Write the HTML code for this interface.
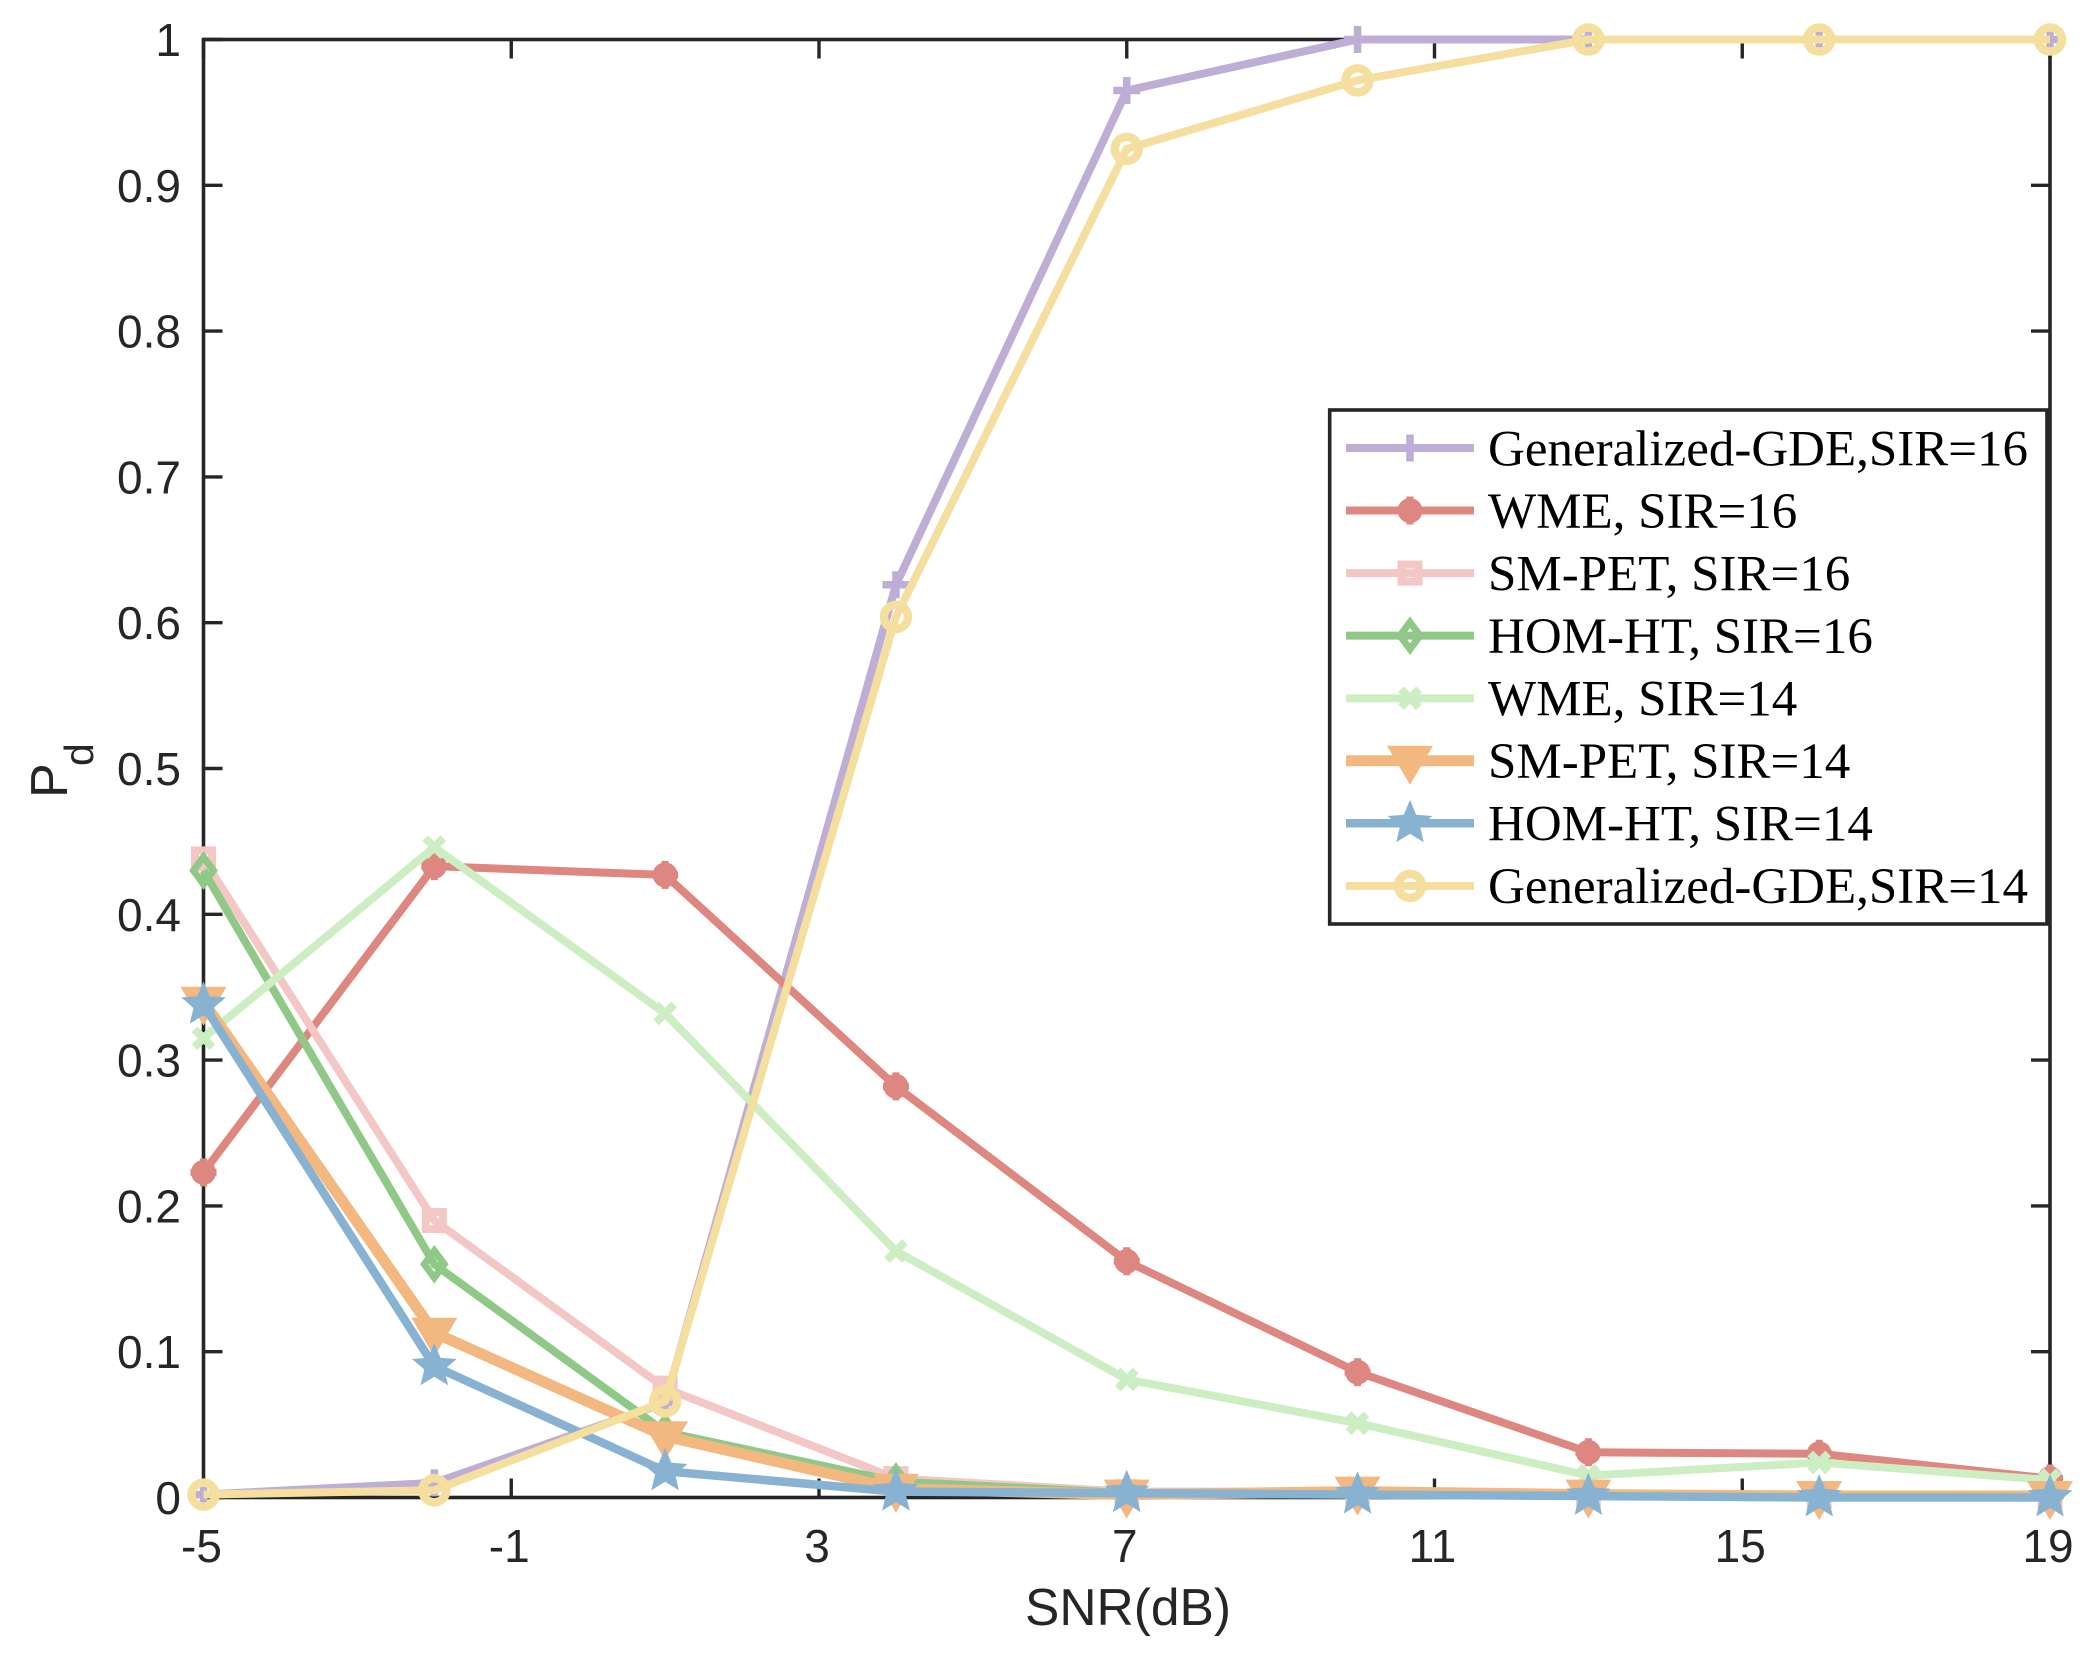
<!DOCTYPE html>
<html lang="en">
<head>
<meta charset="utf-8">
<title>Pd versus SNR</title>
<style>
html,body{margin:0;padding:0;background:#fff;}
svg{display:block;}
.tick-label{font-family:"Liberation Sans",sans-serif;font-size:46px;fill:#262626;}
.axis-title{font-family:"Liberation Sans",sans-serif;fill:#262626;}
.legend-label{font-family:"Liberation Serif",serif;font-size:51px;fill:#000;}
</style>
</head>
<body>
<svg id="chart" xmlns="http://www.w3.org/2000/svg" width="2100" height="1659" viewBox="0 0 2100 1659">
  <rect x="0" y="0" width="2100" height="1659" fill="#ffffff"/>
  <g id="ticks"></g>
  <rect x="203.5" y="39.5" width="1846.5" height="1458" fill="none" stroke="#262626" stroke-width="3.6"/>
  <g id="tick-labels"></g>
  <g id="series"></g>
  <text class="axis-title" x="1128" y="1625" font-size="51.5" text-anchor="middle">SNR(dB)</text>
  <g>
    <text class="axis-title" transform="translate(67,798) rotate(-90)" font-size="52">P</text>
    <text class="axis-title" transform="translate(93,766) rotate(-90)" font-size="41">d</text>
  </g>
  <g id="legend">
    <rect x="1329.7" y="410" width="717.3" height="514" fill="#ffffff" stroke="#262626" stroke-width="3.6"/>
    <text class="legend-label" x="1488" y="465.4">Generalized-GDE,SIR=16</text>
    <text class="legend-label" x="1488" y="528">WME, SIR=16</text>
    <text class="legend-label" x="1488" y="590.6">SM-PET, SIR=16</text>
    <text class="legend-label" x="1488" y="653">HOM-HT, SIR=16</text>
    <text class="legend-label" x="1488" y="715.5">WME, SIR=14</text>
    <text class="legend-label" x="1488" y="778">SM-PET, SIR=14</text>
    <text class="legend-label" x="1488" y="840.6">HOM-HT, SIR=14</text>
    <text class="legend-label" x="1488" y="903">Generalized-GDE,SIR=14</text>
  </g>
</svg>
<script>
// Chart data
const snrValues = [-5, -2, 1, 4, 7, 10, 13, 16, 19];
const gdeSir16 = [0.002, 0.010, 0.065, 0.626, 0.965, 1.000, 1.000, 1.000, 1.000];
const wmeSir16 = [0.223, 0.433, 0.427, 0.282, 0.162, 0.086, 0.031, 0.030, 0.013];
const smPetSir16 = [0.438, 0.190, 0.075, 0.013, 0.004, 0.004, 0.002, 0.001, 0.001];
const homHtSir16 = [0.430, 0.160, 0.045, 0.011, 0.003, 0.002, 0.001, 0.000, 0.000];
const wmeSir14 = [0.315, 0.446, 0.332, 0.169, 0.081, 0.051, 0.015, 0.024, 0.012];
const smPetSir14 = [0.340, 0.113, 0.042, 0.006, 0.002, 0.004, 0.002, 0.001, 0.001];
const homHtSir14 = [0.338, 0.090, 0.018, 0.004, 0.003, 0.002, 0.001, 0.000, 0.000];
const gdeSir14 = [0.002, 0.005, 0.066, 0.604, 0.925, 0.972, 1.000, 1.000, 1.000];
const xTickLabels = [-5, -1, 3, 7, 11, 15, 19];
const yTickLabels = [0, 0.1, 0.2, 0.3, 0.4, 0.5, 0.6, 0.7, 0.8, 0.9, 1];

const plotLeft = 203.5, plotRight = 2050, plotTop = 39.5, plotBottom = 1497.5;
const xMin = -5, xMax = 19, yMin = 0, yMax = 1;
function xScale(v) { return plotLeft + (v - xMin) / (xMax - xMin) * (plotRight - plotLeft); }
function yScale(v) { return plotBottom - (v - yMin) / (yMax - yMin) * (plotBottom - plotTop); }

const NS = 'http://www.w3.org/2000/svg';
function make(tag, parent, attrs) {
  const el = document.createElementNS(NS, tag);
  for (const k in attrs) el.setAttribute(k, attrs[k]);
  parent.appendChild(el);
  return el;
}

// Ticks and tick labels
const tickGroup = document.getElementById('ticks');
const labelGroup = document.getElementById('tick-labels');
const tickLen = 19;
xTickLabels.forEach(function (t) {
  const x = xScale(t);
  const bottomTick = make('line', tickGroup, {x1: x, x2: x, y1: plotBottom, y2: plotBottom - tickLen, stroke: '#262626', 'stroke-width': 3.4});
  
  
  const topTick = make('line', tickGroup, {x1: x, x2: x, y1: plotTop, y2: plotTop + tickLen, stroke: '#262626', 'stroke-width': 3.4});
  
  
  const label = make('text', labelGroup, {x: x - 2, y: 1562, 'text-anchor': 'middle', class: 'tick-label'});
  
  
  label.textContent = String(t);
});
yTickLabels.forEach(function (t) {
  const y = yScale(t);
  const leftTick = make('line', tickGroup, {x1: plotLeft, x2: plotLeft + tickLen, y1: y, y2: y, stroke: '#262626', 'stroke-width': 3.4});
  
  
  const rightTick = make('line', tickGroup, {x1: plotRight, x2: plotRight - tickLen, y1: y, y2: y, stroke: '#262626', 'stroke-width': 3.4});
  
  
  const label = make('text', labelGroup, {x: 181, y: y + 16.5, 'text-anchor': 'end', class: 'tick-label'});
  
  
  label.textContent = String(t);
});

// Marker shapes
function starPoints(cx, cy, R, r) {
  const pts = [];
  for (let i = 0; i < 10; i++) {
    const a = -Math.PI / 2 + i * Math.PI / 5;
    const rad = i % 2 === 0 ? R : r;
    pts.push((cx + rad * Math.cos(a)).toFixed(2) + ',' + (cy + rad * Math.sin(a)).toFixed(2));
  }
  return pts.join(' ');
}
function drawMarker(kind, parent, x, y, color) {
  const g = make('g', parent, {});
  
  
  if (kind === 'plus') {
    make('path', g, {d: `M${x - 13.5} ${y}H${x + 13.5}M${x} ${y - 13.5}V${y + 13.5}`, stroke: color, 'stroke-width': 7.5, fill: 'none'});
  } else if (kind === 'asterisk') {
    make('path', g, {d: `M${x - 13} ${y}H${x + 13}M${x} ${y - 14}V${y + 14}`, stroke: color, 'stroke-width': 7, fill: 'none'});
    make('circle', g, {cx: x, cy: y, r: 12.5, fill: color});
  } else if (kind === 'square') {
    make('rect', g, {x: x - 8.5, y: y - 8.5, width: 17, height: 17, stroke: color, 'stroke-width': 8, fill: 'none'});
  } else if (kind === 'diamond') {
    make('polygon', g, {points: `${x},${y - 13.5} ${x + 10},${y} ${x},${y + 13.5} ${x - 10},${y}`, stroke: color, 'stroke-width': 7, fill: 'none'});
  } else if (kind === 'cross') {
    make('path', g, {d: `M${x - 9} ${y - 9}L${x + 9} ${y + 9}M${x - 9} ${y + 9}L${x + 9} ${y - 9}`, stroke: color, 'stroke-width': 8, fill: 'none'});
  } else if (kind === 'triangle') {
    make('polygon', g, {points: `${x - 23},${y - 15} ${x + 23},${y - 15} ${x},${y + 24}`, fill: color});
  } else if (kind === 'star') {
    make('polygon', g, {points: starPoints(x, y, 23.5, 10.5), fill: color});
  } else if (kind === 'circle') {
    make('circle', g, {cx: x, cy: y, r: 12, stroke: color, 'stroke-width': 8.5, fill: 'none'});
  }
}

// Series (draw order = legend order)
const seriesGroup = document.getElementById('series');
const legendGroup = document.getElementById('legend');
const seriesList = [
  {id: 'generalized-gde-sir16', values: gdeSir16, color: '#BEADD5', width: 8, marker: 'plus'},
  {id: 'wme-sir16', values: wmeSir16, color: '#DD8780', width: 8, marker: 'asterisk'},
  {id: 'sm-pet-sir16', values: smPetSir16, color: '#F3C7C5', width: 8, marker: 'square'},
  {id: 'hom-ht-sir16', values: homHtSir16, color: '#90C987', width: 8, marker: 'diamond'},
  {id: 'wme-sir14', values: wmeSir14, color: '#CDEDC3', width: 8, marker: 'cross'},
  {id: 'sm-pet-sir14', values: smPetSir14, color: '#F3B880', width: 11, marker: 'triangle'},
  {id: 'hom-ht-sir14', values: homHtSir14, color: '#88B2D2', width: 8.5, marker: 'star'},
  {id: 'generalized-gde-sir14', values: gdeSir14, color: '#F5DF9F', width: 8, marker: 'circle'}
];
seriesList.forEach(function (s, idx) {
  const g = make('g', seriesGroup, {});
  
  
  const pts = s.values.map(function (v, i) { return xScale(snrValues[i]).toFixed(2) + ',' + yScale(v).toFixed(2); }).join(' ');
  const line = make('polyline', g, {points: pts, fill: 'none', stroke: s.color, 'stroke-width': s.width, 'stroke-linejoin': 'miter'});
  
  
  s.values.forEach(function (v, i) {
    drawMarker(s.marker, g, xScale(snrValues[i]), yScale(v), s.color);
  });
  // Legend sample
  const rowY = 448 + idx * 62.55;
  const sample = make('g', legendGroup, {});
  
  
  make('line', sample, {x1: 1346, x2: 1474, y1: rowY, y2: rowY, stroke: s.color, 'stroke-width': s.width});
  drawMarker(s.marker, sample, 1410, rowY, s.color);
});
</script>
</body>
</html>
